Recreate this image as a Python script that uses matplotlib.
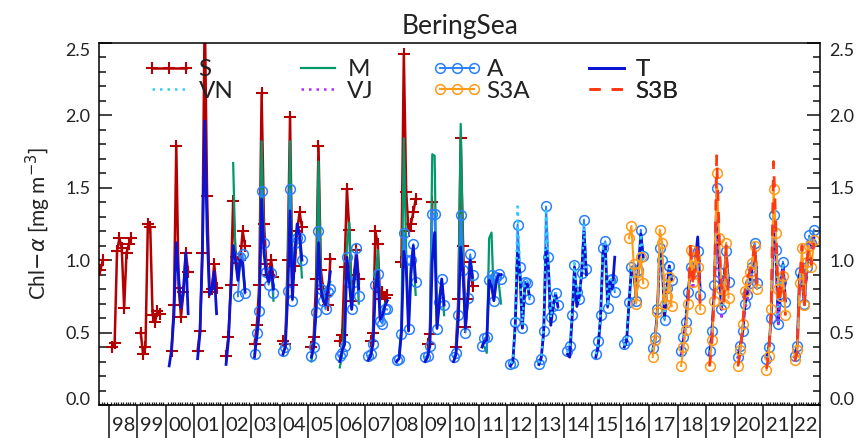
import numpy as np
import matplotlib
matplotlib.use("Agg")
import matplotlib.pyplot as plt
import matplotlib.transforms as mtransforms
from matplotlib.ticker import FixedLocator, MultipleLocator

plt.rcParams['font.family'] = ['Lato', 'DejaVu Sans']

# monthly Chl-a, one entry per season: (year, first month, values)
S = [(1997, 9, [0.93, 1.00]),
     (1998, 2, [0.40, 0.43, 1.06, 1.15, 1.08, 0.67, 1.05, 1.11, 1.15]),
     (1999, 2, [0.50, 0.35, 0.40, 1.25, 1.23, 0.62, 0.57, 0.65, 0.63]),
     (2000, 3, [0.375, 0.69, 1.79, 0.81, 0.61, 0.78, 1.05, 0.92]),
     (2001, 2, [0.375, 0.51, 1.05, 2.75, 1.44, 0.78, 0.80, 0.97, 0.81]),
     (2002, 2, [0.34, 0.47, 0.83, 1.41, 1.02, 0.98, 1.00, 1.20, 1.10]),
     (2003, 2, [0.42, 0.55, 0.83, 2.15, 1.25, 0.97, 0.90, 1.00, 0.88]),
     (2004, 2, [0.44, 0.42, 1.00, 1.99, 0.83, 0.96, 1.20, 1.33, 1.23]),
     (2005, 2, [0.40, 0.47, 0.87, 1.79, 0.93, 0.80, 0.75, 0.69, 1.01]),
     (2006, 2, [0.44, 0.48, 0.95, 1.49, 1.21, 0.72, 0.90, 1.07, 0.87]),
     (2007, 3, [0.44, 0.50, 1.20, 1.11, 0.73, 0.78, 0.74, 0.76]),
     (2008, 4, [0.99, 2.42, 1.47, 1.20, 1.25, 1.33, 1.42]),
     (2009, 3, [0.42, 0.49, 1.40]),
     (2010, 3, [0.40, 0.73, 1.84, 1.10, 0.54, 0.73, 0.99, 0.82])]

M = [(2002, 5, [1.67, 1.00, 0.88, 1.00, 0.95, 0.80]),
     (2003, 3, [0.45, 0.62, 1.82, 1.10, 0.92, 0.85, 0.95, 0.72]),
     (2004, 3, [0.40, 0.90, 1.82, 0.80, 1.05, 1.15, 1.15, 0.88]),
     (2005, 2, [0.30, 0.42, 0.70, 1.68, 0.85, 0.75, 0.70, 0.80, 0.85]),
     (2006, 2, [0.26, 0.35, 0.60, 1.10, 1.26, 0.72, 0.85, 1.00, 0.70]),
     (2007, 3, [0.33, 0.45, 0.85, 1.07, 0.62, 0.60, 0.70, 0.72]),
     (2008, 3, [0.35, 0.55, 1.84, 1.05, 0.55, 0.95, 1.05, 0.76]),
     (2009, 2, [0.30, 0.33, 0.45, 1.73, 1.72, 0.55, 0.75, 0.85, 0.62]),
     (2010, 2, [0.30, 0.35, 0.65, 1.94, 1.00, 0.55, 0.72, 1.02, 0.86]),
     (2011, 3, [0.40, 0.36, 1.15, 1.19, 0.72, 0.88, 0.85, 0.70])]

A = [(2002, 7, [0.75, 1.02, 1.04, 0.77]),
     (2003, 2, [0.35, 0.50, 0.65, 1.48, 1.12, 0.92, 0.83, 0.91, 0.77]),
     (2004, 2, [0.37, 0.40, 0.79, 1.49, 0.72, 1.12, 1.15, 1.15, 1.00]),
     (2005, 2, [0.34, 0.40, 0.645, 1.20, 0.80, 0.72, 0.66, 0.78, 0.80]),
     (2006, 2, [0.34, 0.36, 0.41, 1.02, 0.85, 0.66, 0.85, 1.08, 0.75]),
     (2007, 2, [0.34, 0.35, 0.42, 0.83, 0.905, 0.58, 0.56, 0.66, 0.66]),
     (2008, 2, [0.31, 0.32, 0.49, 1.19, 1.00, 0.525, 1.00, 1.11, 0.85]),
     (2009, 2, [0.33, 0.34, 0.41, 1.32, 1.32, 0.525, 0.71, 0.87, 0.69]),
     (2010, 2, [0.33, 0.36, 0.62, 1.31, 0.93, 0.50, 0.74, 1.04, 0.90]),
     (2011, 2, [0.41, 0.46, 0.47, 0.86, 0.90, 0.72, 0.88, 0.905, 0.87]),
     (2012, 2, [0.28, 0.29, 0.575, 1.245, 0.95, 0.53, 0.85, 0.84, 0.73]),
     (2013, 2, [0.28, 0.32, 0.51, 1.37, 1.02, 0.61, 0.68, 0.77, 0.69]),
     (2014, 2, [0.37, 0.41, 0.62, 0.965, 0.78, 0.73, 0.91, 1.28, 0.94]),
     (2015, 2, [0.35, 0.44, 0.62, 1.08, 1.13, 0.67, 0.86, 0.87, 0.78]),
     (2016, 2, [0.42, 0.45, 0.71, 0.95, 0.93, 0.72, 0.93, 1.21, 1.03]),
     (2017, 2, [0.39, 0.47, 0.66, 1.08, 1.00, 0.585, 0.81, 0.96, 0.86]),
     (2018, 2, [0.37, 0.47, 0.57, 0.78, 0.95, 0.92, 1.00, 1.06, 0.76]),
     (2019, 2, [0.37, 0.51, 0.83, 1.50, 0.92, 0.66, 0.85, 1.06, 0.85]),
     (2020, 2, [0.33, 0.41, 0.51, 0.70, 0.76, 0.84, 0.95, 1.12, 0.84]),
     (2021, 2, [0.32, 0.40, 0.60, 1.31, 1.07, 0.56, 0.85, 0.99, 0.71]),
     (2022, 2, [0.34, 0.41, 0.92, 0.88, 0.70, 0.95, 1.17, 1.12, 1.21])]

T = [(2000, 2, [0.27, 0.38, 0.62, 1.12, 0.88, 0.67, 0.78, 1.05, 0.63]),
     (2001, 2, [0.32, 0.50, 1.05, 1.96, 1.20, 0.76, 0.80, 0.92, 0.63]),
     (2002, 2, [0.28, 0.45, 0.80, 1.10, 1.00, 0.86, 1.00, 0.98, 0.78]),
     (2003, 2, [0.33, 0.48, 0.65, 1.42, 1.05, 0.90, 0.85, 0.95, 0.80]),
     (2004, 2, [0.35, 0.40, 0.75, 1.34, 0.73, 1.05, 1.25, 1.18, 1.00]),
     (2005, 2, [0.33, 0.40, 0.65, 1.12, 0.80, 0.72, 0.69, 0.80, 0.92]),
     (2006, 2, [0.30, 0.38, 0.42, 1.02, 0.85, 0.66, 0.85, 1.03, 0.80]),
     (2007, 2, [0.31, 0.34, 0.42, 0.80, 0.92, 0.59, 0.62, 0.68, 0.72]),
     (2008, 2, [0.30, 0.32, 0.50, 1.06, 0.95, 0.51, 0.90, 1.10, 0.85]),
     (2009, 2, [0.30, 0.33, 0.41, 1.00, 1.19, 0.53, 0.70, 0.87, 0.69]),
     (2010, 2, [0.30, 0.35, 0.60, 1.09, 0.90, 0.53, 0.75, 1.00, 0.88]),
     (2011, 2, [0.40, 0.44, 0.45, 0.86, 0.82, 0.72, 0.85, 0.90, 0.90]),
     (2012, 2, [0.27, 0.30, 0.55, 1.05, 0.90, 0.53, 0.80, 0.85, 0.75]),
     (2013, 2, [0.28, 0.33, 0.50, 1.08, 0.95, 0.55, 0.68, 0.77, 0.68]),
     (2014, 2, [0.35, 0.33, 0.60, 0.95, 0.68, 0.75, 0.90, 1.20, 0.90]),
     (2015, 2, [0.33, 0.40, 0.60, 1.05, 1.10, 0.68, 0.85, 0.80, 1.02]),
     (2016, 2, [0.40, 0.44, 0.70, 0.93, 0.92, 0.74, 0.95, 1.18, 1.02]),
     (2017, 2, [0.37, 0.45, 0.66, 1.05, 1.00, 0.60, 0.80, 0.96, 0.86]),
     (2018, 2, [0.35, 0.45, 0.58, 0.80, 0.92, 0.88, 1.00, 1.16, 0.80]),
     (2019, 2, [0.35, 0.50, 0.80, 1.40, 1.00, 0.66, 0.85, 1.05, 0.85]),
     (2020, 2, [0.33, 0.41, 0.51, 0.70, 0.78, 0.84, 0.96, 1.10, 0.85]),
     (2021, 2, [0.32, 0.40, 0.60, 1.30, 1.05, 0.56, 0.85, 0.97, 0.72]),
     (2022, 2, [0.33, 0.41, 0.90, 0.86, 0.70, 0.95, 1.12, 1.10, 1.15])]

VN = [(2012, 2, [0.29, 0.30, 0.56, 1.37, 0.93, 0.55, 0.83, 0.86, 0.74]),
      (2013, 2, [0.29, 0.33, 0.52, 1.36, 1.00, 0.60, 0.70, 0.78, 0.68]),
      (2014, 2, [0.36, 0.40, 0.64, 0.98, 0.78, 0.72, 0.92, 1.25, 0.93]),
      (2015, 2, [0.35, 0.43, 0.63, 1.08, 1.12, 0.68, 0.86, 0.88, 0.78]),
      (2016, 2, [0.41, 0.46, 0.72, 0.93, 0.92, 0.76, 0.95, 1.18, 1.00]),
      (2017, 2, [0.38, 0.47, 0.65, 1.06, 1.00, 0.60, 0.82, 0.95, 0.86]),
      (2018, 2, [0.36, 0.46, 0.58, 0.80, 0.95, 0.90, 1.00, 1.05, 0.78]),
      (2019, 2, [0.36, 0.52, 0.82, 1.45, 0.95, 0.68, 0.85, 1.05, 0.84]),
      (2020, 2, [0.33, 0.42, 0.52, 0.70, 0.77, 0.85, 0.96, 1.10, 0.83]),
      (2021, 2, [0.32, 0.41, 0.62, 1.33, 1.05, 0.58, 0.86, 0.98, 0.72]),
      (2022, 2, [0.34, 0.42, 0.90, 0.86, 0.71, 0.95, 1.15, 1.12, 1.18])]

VJ = [(2018, 2, [0.35, 0.44, 0.55, 0.75, 0.90, 0.80, 0.92, 1.00, 0.72]),
      (2019, 2, [0.35, 0.48, 0.78, 1.42, 0.88, 0.59, 0.80, 1.00, 0.80]),
      (2020, 2, [0.32, 0.40, 0.50, 0.66, 0.73, 0.80, 0.92, 1.05, 0.80]),
      (2021, 2, [0.31, 0.39, 0.58, 1.28, 1.00, 0.55, 0.82, 0.95, 0.68]),
      (2022, 2, [0.33, 0.40, 0.88, 0.84, 0.68, 0.92, 1.12, 1.08, 1.15])]

S3A = [(2016, 4, [1.15, 1.235, 0.97, 0.70, 0.92, 1.02, 0.84]),
       (2017, 2, [0.33, 0.45, 0.64, 1.21, 1.12, 0.70, 0.75, 0.885, 0.68]),
       (2018, 2, [0.27, 0.40, 0.52, 0.70, 1.07, 0.85, 1.02, 0.95, 0.66]),
       (2019, 2, [0.27, 0.45, 0.72, 1.60, 1.15, 0.80, 0.70, 1.12, 0.74]),
       (2020, 2, [0.27, 0.38, 0.56, 0.79, 0.86, 0.92, 0.98, 1.10, 0.80]),
       (2021, 2, [0.24, 0.34, 0.66, 1.49, 1.19, 0.80, 0.75, 0.89, 0.62]),
       (2022, 2, [0.31, 0.38, 0.84, 1.08, 0.69, 0.99, 1.10, 0.95, 1.14])]

S3B = [(2018, 5, [0.72, 1.13, 0.82, 0.98, 1.12, 0.70]),
       (2019, 2, [0.27, 0.44, 0.75, 1.72, 1.20, 0.78, 0.72, 1.10, 0.72]),
       (2020, 2, [0.27, 0.37, 0.55, 0.80, 0.88, 0.92, 0.98, 1.12, 0.78]),
       (2021, 2, [0.25, 0.35, 0.68, 1.68, 1.22, 0.70, 0.78, 0.92, 0.62]),
       (2022, 2, [0.30, 0.37, 0.85, 1.10, 0.68, 1.00, 1.08, 0.97, 1.12])]

year_labels = ["98", "99", "00", "01", "02", "03", "04", "05", "06", "07", "08",
               "09", "10", "11", "12", "13", "14", "15", "16", "17", "18", "19",
               "20", "21", "22"]


def season_xy(seasons):
    xs, ys = [], []
    for year, m0, vals in seasons:
        for k, v in enumerate(vals):
            xs.append(year + (m0 + k - 0.6) / 12.0)
            ys.append(v)
        xs.append(np.nan)
        ys.append(np.nan)
    return np.array(xs), np.array(ys)


fig = plt.figure(figsize=(8.65, 4.38), dpi=100)
ax = fig.add_axes([0.1148, 0.0753, 0.8332, 0.8272])

x, y = season_xy(S)
hS, = ax.plot(x, y, color="#B40000", lw=1.8, marker="+", ms=8, mew=1.5, label="S")
x, y = season_xy(M)
hM, = ax.plot(x, y, color="#00996B", lw=1.6, label="M")
x, y = season_xy(A)
hA, = ax.plot(x, y, color="#2B80FF", lw=1.4, marker="o", ms=7, mfc="none",
              mew=1.1, label="A")
x, y = season_xy(T)
hT, = ax.plot(x, y, color="#0A14D2", lw=2.0, label="T")
x, y = season_xy(VN)
hVN, = ax.plot(x, y, color="#33CCFF", lw=1.8, dashes=(1, 2), label="VN")
x, y = season_xy(VJ)
hVJ, = ax.plot(x, y, color="#B02BFF", lw=1.8, dashes=(1, 2), label="VJ")
x, y = season_xy(S3A)
hS3A, = ax.plot(x, y, color="#FF9A1A", lw=1.5, marker="o", ms=7, mfc="none",
                mew=1.1, label="S3A")
x, y = season_xy(S3B)
hS3B, = ax.plot(x, y, color="#FF3A10", lw=2.0, dashes=(4, 4), label="S3B")

ax.set_xlim(1997.66, 2023.0)
ax.set_ylim(0.0, 2.5)

# y axis on both sides, ticks inward
ax.yaxis.set_major_locator(MultipleLocator(0.5))
ax.yaxis.set_minor_locator(MultipleLocator(0.1))
ax.tick_params(axis="y", which="both", direction="in", left=True, right=True,
               labelleft=True, labelright=True, labelsize=13, colors="#222222")
ax.tick_params(axis="y", which="major", length=9.6, width=1.2, pad=6.5)
ax.tick_params(axis="y", which="minor", length=4.8, width=1.2)
ax.set_yticks([0.0, 0.5, 1.0, 1.5, 2.0, 2.5])
ax.set_yticklabels(["0.0", "0.5", "1.0", "1.5", "2.0", "2.5"])
for t in ax.yaxis.get_major_ticks():
    if abs(t.get_loc()) < 1e-9:
        t.label1.set_va("baseline")
        t.label2.set_va("baseline")
    elif abs(t.get_loc() - 2.5) < 1e-9:
        t.label1.set_va("top")
        t.label2.set_va("top")

# x axis: years separated by long ticks, months as short inner ticks
years = np.arange(1998, 2024)
ax.xaxis.set_major_locator(FixedLocator(years))
months = [yr + m / 12.0 for yr in range(1997, 2023) for m in range(1, 12)]
ax.xaxis.set_minor_locator(FixedLocator(months))
ax.tick_params(axis="x", which="major", direction="out", length=24, width=1.2,
               labelbottom=False, color="#222222")
ax.tick_params(axis="x", which="minor", direction="in", length=2.4, width=0.9,
               color="#222222")
trans = mtransforms.blended_transform_factory(ax.transData, ax.transAxes)
for yr, lab in zip(years[:-1], year_labels):
    ax.text(yr + 0.5, -0.057, lab, transform=trans, ha="center", va="center",
            fontsize=14.5, color="#222222")

for sp in ax.spines.values():
    sp.set_linewidth(1.1)

ax.set_title("BeringSea", fontsize=19, pad=6, color="#222222")
ax.set_ylabel(r"Chl$-\alpha$ [mg m$^{-3}$]", fontsize=15, labelpad=9,
              color="#222222")

cols = [(0.0634, [hS, hVN]), (0.270, [hM, hVJ]), (0.463, [hA, hS3A]),
        (0.670, [hT, hS3B])]
for xa, hs in cols:
    leg = ax.legend(handles=hs, loc="upper left", bbox_to_anchor=(xa, 0.955),
                    frameon=False, fontsize=17.5, borderpad=0, borderaxespad=0,
                    handlelength=2.0, handletextpad=0.2, labelspacing=0.02,
                    numpoints=3)
    for txt in leg.get_texts():
        txt.set_color("#222222")
    ax.add_artist(leg)

fig.savefig("out.png", dpi=100)
